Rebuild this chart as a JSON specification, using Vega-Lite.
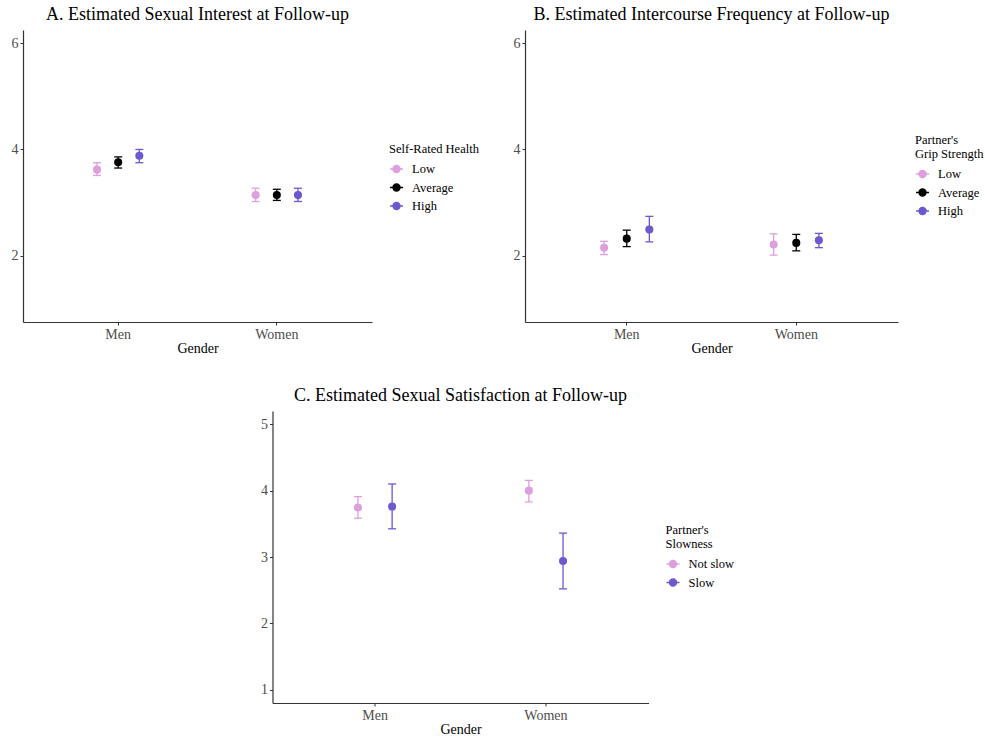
{
  "$schema": "https://vega.github.io/schema/vega-lite/v6.json",
  "padding": {"left": 11, "top": 6, "right": 0, "bottom": 0},
  "background": "white",
  "config": {
    "font": "Liberation Serif",
    "view": {"stroke": null},
    "axis": {"grid": false, "domainColor": "#333333", "domainWidth": 1.2, "tickColor": "#333333", "tickSize": 3, "tickWidth": 1, "labelFont": "Liberation Serif", "labelFontSize": 14, "labelColor": "#4d4d4d", "labelPadding": 2, "titleFont": "Liberation Serif", "titleFontSize": 14, "titleFontWeight": "normal", "titleColor": "#000000", "titlePadding": 0},
    "title": {"font": "Liberation Serif", "fontSize": 18, "fontWeight": "normal", "anchor": "middle", "frame": "group", "offset": 6, "color": "#000000"},
    "legend": {"titleFont": "Liberation Serif", "titleFontSize": 12.5, "titleFontWeight": "normal", "titleColor": "#000000", "labelFont": "Liberation Serif", "labelFontSize": 12.5, "labelColor": "#000000", "orient": "none", "symbolType": "M-1,0L1,0M-0.55,0A0.55,0.55 0 1,0 0.55,0A0.55,0.55 0 1,0 -0.55,0Z", "symbolSize": 169, "symbolStrokeWidth": 1.3, "rowPadding": 4.5, "titlePadding": 6, "labelOffset": 8, "titleLineHeight": 14}
  },
  "datasets": {
    "a": [
      {"gender": "Men", "level": "Low", "est": 3.62, "lo": 3.51, "hi": 3.75},
      {"gender": "Men", "level": "Average", "est": 3.76, "lo": 3.65, "hi": 3.86},
      {"gender": "Men", "level": "High", "est": 3.88, "lo": 3.75, "hi": 4.0},
      {"gender": "Women", "level": "Low", "est": 3.14, "lo": 3.02, "hi": 3.27},
      {"gender": "Women", "level": "Average", "est": 3.14, "lo": 3.04, "hi": 3.25},
      {"gender": "Women", "level": "High", "est": 3.14, "lo": 3.02, "hi": 3.27}
    ],
    "b": [
      {"gender": "Men", "level": "Low", "est": 2.15, "lo": 2.02, "hi": 2.27},
      {"gender": "Men", "level": "Average", "est": 2.32, "lo": 2.17, "hi": 2.48},
      {"gender": "Men", "level": "High", "est": 2.49, "lo": 2.26, "hi": 2.74},
      {"gender": "Women", "level": "Low", "est": 2.21, "lo": 2.01, "hi": 2.41},
      {"gender": "Women", "level": "Average", "est": 2.24, "lo": 2.09, "hi": 2.4},
      {"gender": "Women", "level": "High", "est": 2.29, "lo": 2.15, "hi": 2.42}
    ],
    "c": [
      {"gender": "Men", "level": "Not slow", "est": 3.745, "lo": 3.585, "hi": 3.91},
      {"gender": "Men", "level": "Slow", "est": 3.76, "lo": 3.425, "hi": 4.1},
      {"gender": "Women", "level": "Not slow", "est": 4.0, "lo": 3.83, "hi": 4.155},
      {"gender": "Women", "level": "Slow", "est": 2.94, "lo": 2.52, "hi": 3.36}
    ]
  },
  "vconcat": [
    {
      "hconcat": [
        {
          "width": 349, "height": 292,
          "title": "A. Estimated Sexual Interest at Follow-up",
          "data": {"name": "a"},
          "encoding": {
            "x": {"field": "gender", "type": "nominal", "title": "Gender", "scale": {"paddingInner": 0.6, "paddingOuter": 0.4}, "axis": {"labelAngle": 0}},
            "xOffset": {"field": "level", "type": "nominal", "sort": ["Low", "Average", "High"], "scale": {"paddingInner": 0, "paddingOuter": 0}},
            "fill": {"field": "level", "type": "nominal", "sort": ["Low", "Average", "High"], "scale": {"domain": ["Low", "Average", "High"], "range": ["#dda0dd", "#000000", "#6a5acd"]}, "legend": {"title": "Self-Rated Health", "legendX": 366, "legendY": 113}},
            "stroke": {"field": "level", "type": "nominal", "sort": ["Low", "Average", "High"], "scale": {"domain": ["Low", "Average", "High"], "range": ["#dda0dd", "#000000", "#6a5acd"]}, "legend": {"title": "Self-Rated Health", "legendX": 366, "legendY": 113}}
          },
          "layer": [
            {"mark": {"type": "rule", "strokeWidth": 1.3}, "encoding": {"y": {"field": "lo", "type": "quantitative", "title": null, "scale": {"domain": [0.75, 6.25], "nice": false, "zero": false}, "axis": {"values": [2, 4, 6], "format": "d", "title": null}}, "y2": {"field": "hi"}}},
            {"mark": {"type": "tick", "size": 8, "thickness": 1.3, "strokeOpacity": 0, "opacity": 1}, "encoding": {"y": {"field": "lo", "type": "quantitative"}}},
            {"mark": {"type": "tick", "size": 8, "thickness": 1.3, "strokeOpacity": 0, "opacity": 1}, "encoding": {"y": {"field": "hi", "type": "quantitative"}}},
            {"mark": {"type": "point", "filled": true, "size": 65, "opacity": 1, "strokeWidth": 0}, "encoding": {"y": {"field": "est", "type": "quantitative"}}}
          ]
        },
        {
          "width": 373, "height": 292,
          "title": "B. Estimated Intercourse Frequency at Follow-up",
          "data": {"name": "b"},
          "encoding": {
            "x": {"field": "gender", "type": "nominal", "title": "Gender", "scale": {"paddingInner": 0.6, "paddingOuter": 0.4}, "axis": {"labelAngle": 0}},
            "xOffset": {"field": "level", "type": "nominal", "sort": ["Low", "Average", "High"], "scale": {"paddingInner": 0, "paddingOuter": 0}},
            "fill": {"field": "level", "type": "nominal", "sort": ["Low", "Average", "High"], "scale": {"domain": ["Low", "Average", "High"], "range": ["#dda0dd", "#000000", "#6a5acd"]}, "legend": {"title": ["Partner's", "Grip Strength"], "legendX": 390, "legendY": 104}},
            "stroke": {"field": "level", "type": "nominal", "sort": ["Low", "Average", "High"], "scale": {"domain": ["Low", "Average", "High"], "range": ["#dda0dd", "#000000", "#6a5acd"]}, "legend": {"title": ["Partner's", "Grip Strength"], "legendX": 390, "legendY": 104}}
          },
          "layer": [
            {"mark": {"type": "rule", "strokeWidth": 1.3}, "encoding": {"y": {"field": "lo", "type": "quantitative", "title": null, "scale": {"domain": [0.75, 6.25], "nice": false, "zero": false}, "axis": {"values": [2, 4, 6], "format": "d", "title": null}}, "y2": {"field": "hi"}}},
            {"mark": {"type": "tick", "size": 8, "thickness": 1.3, "strokeOpacity": 0, "opacity": 1}, "encoding": {"y": {"field": "lo", "type": "quantitative"}}},
            {"mark": {"type": "tick", "size": 8, "thickness": 1.3, "strokeOpacity": 0, "opacity": 1}, "encoding": {"y": {"field": "hi", "type": "quantitative"}}},
            {"mark": {"type": "point", "filled": true, "size": 65, "opacity": 1, "strokeWidth": 0}, "encoding": {"y": {"field": "est", "type": "quantitative"}}}
          ]
        }
      ],
      "spacing": 34,
      "resolve": {"scale": {"fill": "independent", "stroke": "independent", "x": "independent", "y": "independent", "xOffset": "independent"}, "legend": {"fill": "independent", "stroke": "independent"}}
    },
    {
      "width": 376, "height": 292,
      "title": "C. Estimated Sexual Satisfaction at Follow-up",
      "data": {"name": "c"},
      "encoding": {
        "x": {"field": "gender", "type": "nominal", "title": "Gender", "scale": {"paddingInner": 0.6, "paddingOuter": 0.4}, "axis": {"labelAngle": 0}},
        "xOffset": {"field": "level", "type": "nominal", "sort": ["Not slow", "Slow"], "scale": {"paddingInner": 0, "paddingOuter": 0}},
        "fill": {"field": "level", "type": "nominal", "sort": ["Not slow", "Slow"], "scale": {"domain": ["Not slow", "Slow"], "range": ["#dda0dd", "#6a5acd"]}, "legend": {"title": ["Partner's", "Slowness"], "legendX": 393, "legendY": 113}},
        "stroke": {"field": "level", "type": "nominal", "sort": ["Not slow", "Slow"], "scale": {"domain": ["Not slow", "Slow"], "range": ["#dda0dd", "#6a5acd"]}, "legend": {"title": ["Partner's", "Slowness"], "legendX": 393, "legendY": 113}}
      },
      "layer": [
        {"mark": {"type": "rule", "strokeWidth": 1.3}, "encoding": {"y": {"field": "lo", "type": "quantitative", "title": null, "scale": {"domain": [0.8, 5.2], "nice": false, "zero": false}, "axis": {"values": [1, 2, 3, 4, 5], "format": "d", "title": null}}, "y2": {"field": "hi"}}},
        {"mark": {"type": "tick", "size": 8, "thickness": 1.3, "strokeOpacity": 0, "opacity": 1}, "encoding": {"y": {"field": "lo", "type": "quantitative"}}},
        {"mark": {"type": "tick", "size": 8, "thickness": 1.3, "strokeOpacity": 0, "opacity": 1}, "encoding": {"y": {"field": "hi", "type": "quantitative"}}},
        {"mark": {"type": "point", "filled": true, "size": 65, "opacity": 1, "strokeWidth": 0}, "encoding": {"y": {"field": "est", "type": "quantitative"}}}
      ]
    }
  ],
  "spacing": 32,
  "center": true,
  "resolve": {"scale": {"fill": "independent", "stroke": "independent", "x": "independent", "y": "independent", "xOffset": "independent"}, "legend": {"fill": "independent", "stroke": "independent"}}
}
